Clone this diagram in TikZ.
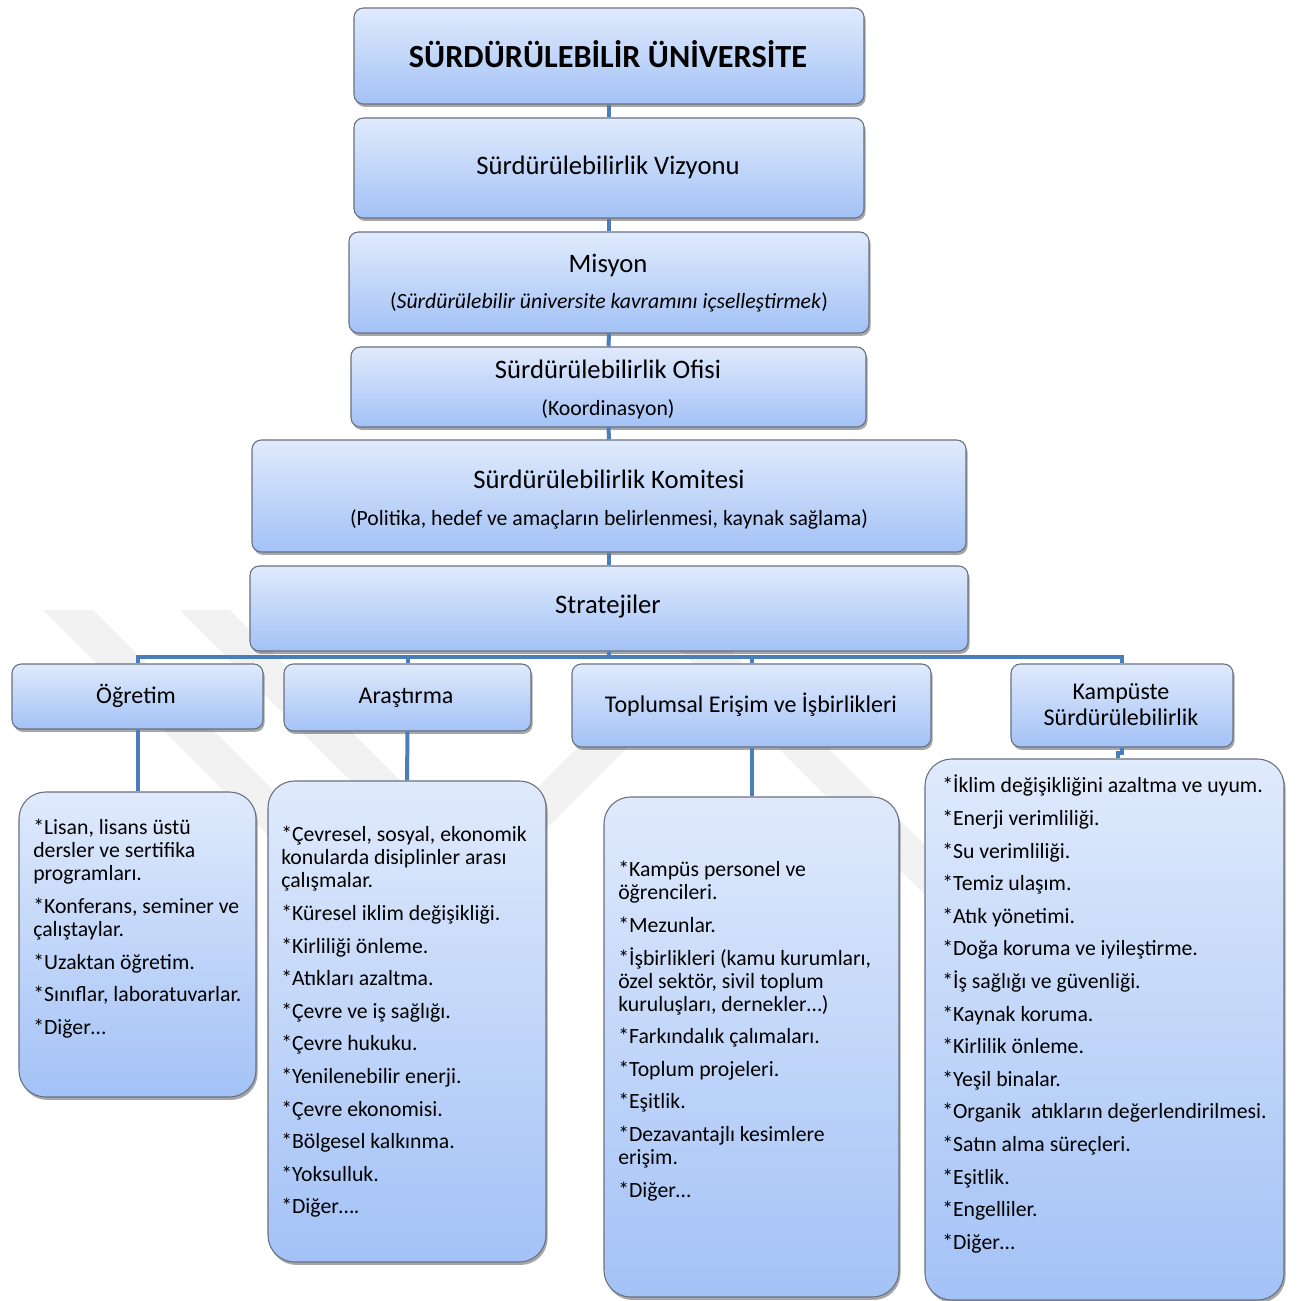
\documentclass[tikz,border=0pt]{standalone}
\usepackage{fontspec}
\setmainfont{Carlito}
\usetikzlibrary{fit,shadows,calc}
\definecolor{conncol}{RGB}{74,126,187}
\definecolor{topc}{RGB}{224,234,252}
\definecolor{botc}{RGB}{163,194,246}
\definecolor{edgec}{RGB}{105,112,128}
\definecolor{wmc}{RGB}{242,242,242}
\begin{document}
\begin{tikzpicture}[x=0.75pt,y=-0.75pt,
  box/.style={draw=edgec, line width=0.8pt, rounded corners=7pt,
    top color=topc, bottom color=botc, inner sep=0pt,
    drop shadow={shadow xshift=1.2pt, shadow yshift=-2.2pt, opacity=0.35, fill=black}},
  listbox/.style={box, rounded corners=20pt},
  conn/.style={draw=conncol, line width=3pt},
  wm/.style={fill=wmc, draw=none},
  hbig/.style={inner sep=0pt, font=\fontsize{20}{24}\selectfont},
  hsub/.style={inner sep=0pt, font=\fontsize{16.3}{19}\selectfont},
  hmid/.style={inner sep=0pt, align=center, font=\fontsize{18}{19.5}\selectfont},
  lst/.style={inner sep=0pt, anchor=north west, align=left, font=\fontsize{16.3}{17.25}\selectfont}
]
\useasboundingbox (0,0) rectangle (1296,1301);
\fill[white] (0,0) rectangle (1296,1301);

% watermark
\fill[wm] (43,610) -- (93,610) -- (356,873) -- (306,873) -- cycle;
\fill[wm] (180,610) -- (230,610) -- (495,875) -- (445,875) -- cycle;
\fill[wm] (445,880) -- (495,880) -- (660,715) -- (610,715) -- cycle;
\fill[wm] (640,610) -- (690,610) -- (990,910) -- (940,910) -- cycle;

% boxes
\node[box, fit={(354,8)(864,104)}] (t) {};
\node[box, fit={(354,118)(864,218)}] (v) {};
\node[box, fit={(349,232)(869,333)}] (m) {};
\node[box, fit={(351,347)(866,427)}] (of) {};
\node[box, fit={(252,440)(966,552)}] (ko) {};
\node[box, fit={(250,566)(968,651)}] (s) {};
\node[box, fit={(12,664)(263,729)}] (o) {};
\node[box, fit={(284,664)(531,731)}] (a) {};
\node[box, fit={(572,664)(931,747)}] (te) {};
\node[box, fit={(1011,664)(1233,747)}] (kh) {};
\node[listbox, fit={(19,792)(256,1097)}] (ol) {};
\node[listbox, fit={(268,781)(546,1262)}] (al) {};
\node[listbox, fit={(604,797)(899,1297)}] (tl) {};
\node[listbox, fit={(925,759)(1284,1300)}] (kl) {};

% connectors
\coordinate (bus) at (0,657);
\draw[conn] (t.south) -- (v.north);
\draw[conn] (v.south) -- (m.north);
\draw[conn] (m.south) -- (of.north);
\draw[conn] (of.south) -- (ko.north);
\draw[conn] (ko.south) -- (s.north);
\draw[conn] (s.south) -- (s.south |- bus);
\draw[conn] (o.north) -- (o.north |- bus) -- (kh.north |- bus) -- (kh.north);
\draw[conn] (a.north) -- (a.north |- bus);
\draw[conn] (te.north) -- (te.north |- bus);
\draw[conn] (o.south) -- (ol.north);
\draw[conn] (a.south) -- (al.north);
\draw[conn] (te.south) -- (tl.north);
\coordinate (kj) at ($(kl.north)+(13,0)$);
\draw[conn] (kh.south) -- ++(0,5) -| (kj);

% header texts
\node[inner sep=0pt, font=\bfseries\fontsize{24.2}{29}\selectfont] (tt) at (608,54) {SÜRDÜRÜLEBİLİR ÜNİVERSİTE};
\node[hbig] (vt) at (608,167) {Sürdürülebilirlik Vizyonu};
\node[hbig] (mt) at (608,265) {Misyon};
\node[hsub] (ms) at (609,302) {(\textit{Sürdürülebilir üniversite kavramını içselleştirmek})};
\node[hbig] (oft) at (608,369) {Sürdürülebilirlik Ofisi};
\node[hsub] (ofs) at (608,409) {(Koordinasyon)};
\node[hbig] (kot) at (609,479) {Sürdürülebilirlik Komitesi};
\node[hsub] (kos) at (609,519) {(Politika, hedef ve amaçların belirlenmesi, kaynak sağlama)};
\node[hbig] (st) at (608,607) {Stratejiler};
\node[hmid] (ot) at (136,696) {Öğretim};
\node[hmid] (at) at (406,698) {Araştırma};
\node[hmid] (tet) at (751,705) {Toplumsal Erişim ve İşbirlikleri};
\node[hmid] (kht) at (1121,705) {Kampüste\\Sürdürülebilirlik};

% list texts
\node[lst] (olt) at (33,816) {\rule{0pt}{14pt}*Lisan, lisans üstü\\dersler ve sertifika\\programları.\\[7.2pt]
*Konferans, seminer ve\\çalıştaylar.\\[7.2pt]
*Uzaktan öğretim.\\[7.2pt]
*Sınıflar, laboratuvarlar.\\[7.2pt]
*Diğer…};
\node[lst] (alt) at (281,823) {\rule{0pt}{14pt}*Çevresel, sosyal, ekonomik\\konularda disiplinler arası\\çalışmalar.\\[7.2pt]
*Küresel iklim değişikliği.\\[7.2pt]
*Kirliliği önleme.\\[7.2pt]
*Atıkları azaltma.\\[7.2pt]
*Çevre ve iş sağlığı.\\[7.2pt]
*Çevre hukuku.\\[7.2pt]
*Yenilenebilir enerji.\\[7.2pt]
*Çevre ekonomisi.\\[7.2pt]
*Bölgesel kalkınma.\\[7.2pt]
*Yoksulluk.\\[7.2pt]
*Diğer….};
\node[lst] (tlt) at (618,858) {\rule{0pt}{14pt}*Kampüs personel ve\\öğrencileri.\\[7.2pt]
*Mezunlar.\\[7.2pt]
*İşbirlikleri (kamu kurumları,\\özel sektör, sivil toplum\\kuruluşları, dernekler…)\\[7.2pt]
*Farkındalık çalımaları.\\[7.2pt]
*Toplum projeleri.\\[7.2pt]
*Eşitlik.\\[7.2pt]
*Dezavantajlı kesimlere\\erişim.\\[7.2pt]
*Diğer…};
\node[lst] (klt) at (942,774) {\rule{0pt}{14pt}*İklim değişikliğini azaltma ve uyum.\\[7.2pt]
*Enerji verimliliği.\\[7.2pt]
*Su verimliliği.\\[7.2pt]
*Temiz ulaşım.\\[7.2pt]
*Atık yönetimi.\\[7.2pt]
*Doğa koruma ve iyileştirme.\\[7.2pt]
*İş sağlığı ve güvenliği.\\[7.2pt]
*Kaynak koruma.\\[7.2pt]
*Kirlilik önleme.\\[7.2pt]
*Yeşil binalar.\\[7.2pt]
*Organik\ \ atıkların değerlendirilmesi.\\[7.2pt]
*Satın alma süreçleri.\\[7.2pt]
*Eşitlik.\\[7.2pt]
*Engelliler.\\[7.2pt]
*Diğer…};
\end{tikzpicture}
\end{document}
